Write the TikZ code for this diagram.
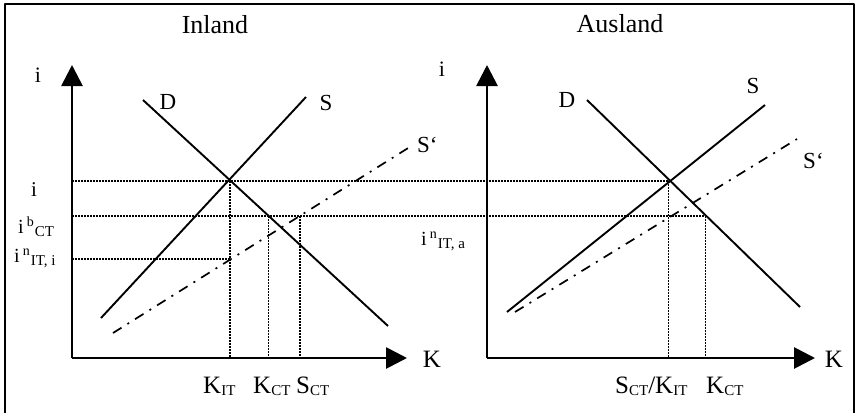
\documentclass[tikz,border=0pt]{standalone}
\usepackage{fontspec}
\setmainfont{Liberation Serif}
\usetikzlibrary{arrows.meta}

\newcommand{\fs}[1]{\fontsize{#1}{#1}\selectfont}
% i mit hochgestelltem und tiefgestelltem Index, versetzt
\newcommand{\zins}[2]{i\hspace{3pt}\raisebox{7pt}{\fs{14}#1}\hspace{1pt}\raisebox{-3pt}{\fs{15}#2}}
\newcommand{\tief}[2]{#1\raisebox{-2pt}{\fs{15}#2}}

\begin{document}
\begin{tikzpicture}[x=1pt, y=-1pt, line join=round,
  achse/.style={line width=2.8pt, -{Triangle[length=21pt,width=21pt]}},
  kurve/.style={line width=1.9pt},
  hilfs/.style={line width=1.6pt, dash pattern=on 1.5pt off 1.5pt},
  schock/.style={line width=1.7pt, dash pattern=on 10pt off 7pt on 2pt off 7pt},
  lab/.style={inner sep=0pt, anchor=base},
  labw/.style={inner sep=0pt, anchor=base west}]

  %% ════ 外框 ════
  \draw[line width=1.4pt] (5,415) -- (5,4) -- (854,4) -- (854,415);

  %% ════ 坐标点 ════
  \coordinate (O1) at (72,358);   \coordinate (Y1) at (72,65);   \coordinate (X1) at (407,358);
  \coordinate (D1a) at (143,100); \coordinate (D1b) at (388,326);
  \coordinate (S1a) at (101,318); \coordinate (S1b) at (306,97);
  \coordinate (T1a) at (113,333); \coordinate (T1b) at (413,145);
  \coordinate (E1) at (230,181);
  \coordinate (O2) at (487,358);  \coordinate (Y2) at (487,65);  \coordinate (X2) at (815,358);
  \coordinate (D2a) at (587,100); \coordinate (D2b) at (800,307);
  \coordinate (S2a) at (507,312); \coordinate (S2b) at (765,105);
  \coordinate (T2a) at (515,312); \coordinate (T2b) at (797,139);
  \coordinate (E2) at (668.5,181);
  \coordinate (iB) at (72,216);   \coordinate (iN) at (72,259);
  \coordinate (KC1) at (268.5,216); \coordinate (SC1) at (300,216);
  \coordinate (KC2) at (705.5,216); \coordinate (KI2) at (668.5,216);

  %% ════ 辅助虚线 ════
  \draw[hilfs] (O1 |- E1) -- (E2);
  \draw[hilfs] (iB) -- (KC2);
  \draw[hilfs] (iN) -- (E1 |- iN);
  \draw[hilfs] (E1) -- (E1 |- O1);
  \draw[hilfs] (KC1) -- (KC1 |- O1);
  \draw[hilfs] (SC1) -- (SC1 |- O1);
  \draw[hilfs] (E2) -- (E2 |- O2);
  \draw[hilfs] (KC2) -- (KC2 |- O2);

  %% ════ 曲线 ════
  \draw[kurve] (D1a) -- (D1b);
  \draw[kurve] (S1a) -- (S1b);
  \draw[schock] (T1a) -- (T1b);
  \draw[kurve] (D2a) -- (D2b);
  \draw[kurve] (S2a) -- (S2b);
  \draw[schock] (T2a) -- (T2b);

  %% ════ 坐标轴 ════
  \draw[achse] (O1) -- (Y1);
  \draw[achse] (O1) -- (X1);
  \draw[achse] (O2) -- (Y2);
  \draw[achse] (O2) -- (X2);

  %% ════ 标签 ════
  \node[lab, font=\fs{26}] (tin) at (215,34) {Inland};
  \node[lab, font=\fs{26}] (taus) at (620,33) {Ausland};
  \node[lab, font=\fs{22}] (yi1) at (38,82) {i};
  \node[lab, font=\fs{22}] (yi2) at (442,77) {i};
  \node[lab, font=\fs{25}] (xk1) at (432,367) {K};
  \node[lab, font=\fs{25}] (xk2) at (834,367) {K};
  \node[lab, font=\fs{23}] (ld1) at (168,109) {D};
  \node[lab, font=\fs{23}] (ls1) at (326,110) {S};
  \node[labw, font=\fs{23}] (lt1) at (417,152) {S‘};
  \node[lab, font=\fs{23}] (ld2) at (567,107) {D};
  \node[lab, font=\fs{23}] (ls2) at (753,93) {S};
  \node[labw, font=\fs{23}] (lt2) at (803,168) {S‘};
  \node[lab, font=\fs{21}] (li) at (34,196) {i};
  \node[labw, font=\fs{20}] (lib) at (18,233) {\zins{b}{CT}};
  \node[labw, font=\fs{20}] (lin) at (14,262) {\zins{n}{IT, i}};
  \node[labw, font=\fs{20}] (lia) at (421,245) {\zins{n}{IT, a}};
  \node[labw, font=\fs{25}] (kit1) at (203,393) {\tief{K}{IT}};
  \node[labw, font=\fs{25}] (kct1) at (253,393) {\tief{K}{CT}};
  \node[labw, font=\fs{25}] (sct1) at (296,393) {\tief{S}{CT}};
  \node[labw, font=\fs{25}] (skt2) at (615,393) {\tief{S}{CT}/\tief{K}{IT}};
  \node[labw, font=\fs{25}] (kct2) at (706,393) {\tief{K}{CT}};

  \pgfresetboundingbox
  \path[use as bounding box] (0,0) rectangle (856,412);
\end{tikzpicture}
\end{document}
